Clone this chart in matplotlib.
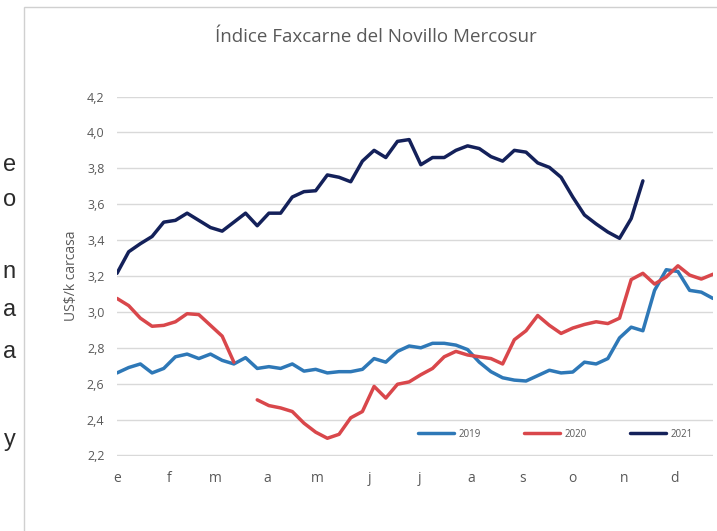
import numpy as np
import matplotlib.pyplot as plt
from matplotlib.patches import Rectangle

# weekly points, day of year
days = [7 * i for i in range(52)]

v2019 = [2.66, 2.69, 2.71, 2.66, 2.685, 2.75, 2.765, 2.74, 2.765, 2.73,
         2.71, 2.745, 2.685, 2.695, 2.685, 2.71, 2.67, 2.68, 2.66, 2.667,
         2.667, 2.68, 2.74, 2.72, 2.78, 2.81, 2.80, 2.825, 2.825, 2.815,
         2.79, 2.72, 2.667, 2.633, 2.62, 2.615, 2.645, 2.675, 2.66, 2.665,
         2.72, 2.71, 2.74, 2.855, 2.915, 2.895, 3.12, 3.235, 3.225, 3.12,
         3.11, 3.075]

v2020 = [3.075, 3.035, 2.965, 2.92, 2.925, 2.945, 2.99, 2.985, 2.925, 2.865,
         2.72, np.nan, 2.51, 2.478, 2.465, 2.445, 2.38, 2.33, 2.296, 2.318,
         2.41, 2.445, 2.585, 2.52, 2.597, 2.61, 2.65, 2.685, 2.75, 2.78,
         2.76, 2.75, 2.74, 2.71, 2.845, 2.895, 2.98, 2.925, 2.88, 2.91,
         2.93, 2.945, 2.935, 2.965, 3.18, 3.215, 3.155, 3.195, 3.257, 3.205,
         3.183, 3.21]

v2021 = [3.215, 3.335, 3.38, 3.42, 3.50, 3.51, 3.55, 3.51, 3.47, 3.45,
         3.50, 3.55, 3.48, 3.55, 3.55, 3.64, 3.67, 3.675, 3.763, 3.75,
         3.725, 3.84, 3.90, 3.86, 3.95, 3.96, 3.82, 3.86, 3.86, 3.90,
         3.925, 3.91, 3.865, 3.84, 3.90, 3.89, 3.83, 3.805, 3.75, 3.64,
         3.54, 3.49, 3.445, 3.41, 3.52, 3.73]

month_days = [0, 31, 59, 90, 120, 151, 181, 212, 243, 273, 304, 334]
month_labels = ["e", "f", "m", "a", "m", "j", "j", "a", "s", "o", "n", "d"]
y_ticks = [2.2, 2.4, 2.6, 2.8, 3.0, 3.2, 3.4, 3.6, 3.8, 4.0, 4.2]

series = [("2019", v2019, "#2e78b7"),
          ("2020", v2020, "#d9474b"),
          ("2021", v2021, "#14215a")]

plt.rcParams['font.family'] = ['Open Sans', 'DejaVu Sans']
grey = "#595959"

fig = plt.figure(figsize=(7.17, 5.31), dpi=100)
fig.patch.set_facecolor("white")

# chart frame
fig.add_artist(Rectangle((24 / 717, -0.1), 1.0, 1.0868, transform=fig.transFigure,
                         facecolor="none", edgecolor="#d0d0d0", linewidth=1.0))

# fragments of surrounding page text
for ch, ypx in [("e", 165), ("o", 200), ("n", 272), ("a", 310), ("a", 352), ("y", 440)]:
    fig.text(16 / 717, 1 - ypx / 531, ch, ha="right", va="center",
             fontsize=17, color="#2b2b2b", family=["Liberation Sans"])

ax = fig.add_axes([117 / 717, 1 - 455.5 / 531, (713 - 117) / 717, (455.5 - 96.5) / 531])

for name, vals, col in series:
    ax.plot(days[:len(vals)], vals, color=col, lw=2.5, label=name,
            solid_joinstyle="round", solid_capstyle="round")

ax.set_xlim(0, 357)
ax.set_ylim(2.2, 4.2)
ax.set_yticks(y_ticks)
ax.set_yticklabels([f"{t:.1f}".replace(".", ",") for t in y_ticks])
ax.set_xticks(month_days)
ax.set_xticklabels(month_labels)
ax.grid(axis="y", color="#d9d9d9", lw=1.0)
ax.set_axisbelow(True)
for s in ax.spines.values():
    s.set_visible(False)
ax.tick_params(axis="both", length=0, colors=grey, labelsize=9)
ax.tick_params(axis="x", pad=11, labelsize=10)
ax.tick_params(axis="y", pad=9)

ax.set_ylabel("US$/k carcasa", color=grey, fontsize=10, labelpad=6)

leg = ax.legend(loc="lower right", bbox_to_anchor=(0.98, 0.02), ncol=3,
                frameon=False, fontsize=7, handlelength=3.7, columnspacing=4.5,
                handletextpad=0.4)
for t in leg.get_texts():
    t.set_color(grey)

fig.text(376 / 717, 1 - 37 / 531, "Índice Faxcarne del Novillo Mercosur",
         ha="center", va="center", fontsize=13.5, color=grey)

fig.savefig("out.png", dpi=100)
